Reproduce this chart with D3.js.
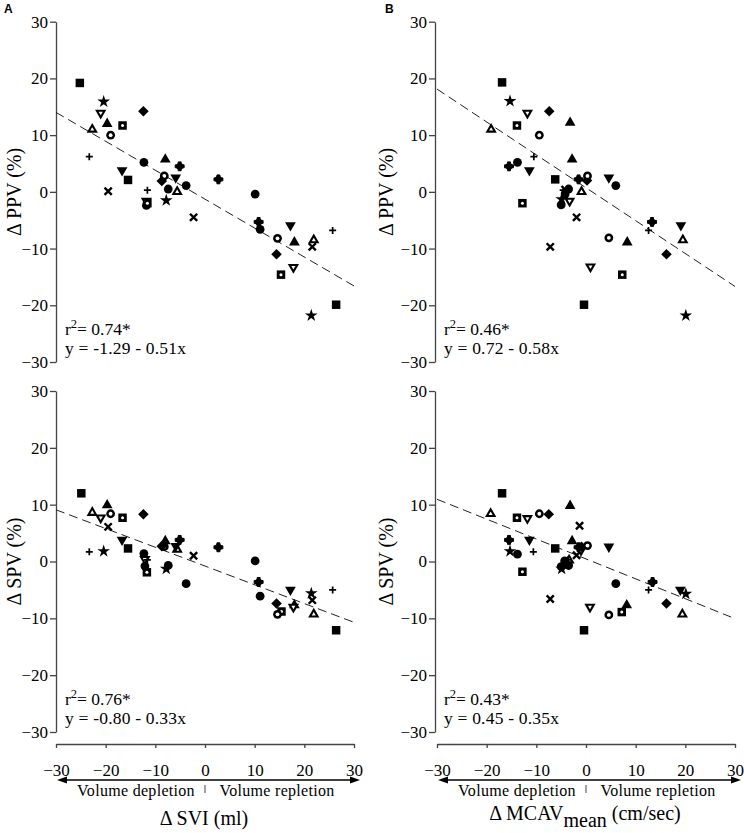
<!DOCTYPE html>
<html><head><meta charset="utf-8">
<script src="https://cdn.jsdelivr.net/npm/d3@7/dist/d3.min.js"></script>
<style>body{margin:0;background:#fff}svg{display:block}</style>
</head><body>
<svg id="c" width="744" height="833" font-family="Liberation Serif, Times New Roman, serif"></svg>
<script>
// ---- data ----
const yTicks = [30, 20, 10, 0, -10, -20, -30];
const xTicks = [-30, -20, -10, 0, 10, 20, 30];
const fitA = {a: -1.29, b: -0.51, r2: "0.74*", eq: "y = -1.29 - 0.51x"};
const fitB = {a: 0.72, b: -0.58, r2: "0.46*", eq: "y = 0.72 - 0.58x"};
const fitC = {a: -0.80, b: -0.33, r2: "0.76*", eq: "y = -0.80 - 0.33x"};
const fitD = {a: 0.45, b: -0.35, r2: "0.43*", eq: "y = 0.45 - 0.35x"};
// [subject symbol, x, y]
const pointsA = [
 ["sqF",-25.2,19.2],["sqF",-15.5,2.1],["sqF",26.4,-19.9],
 ["star",-20.4,15.9],["star",-7.8,-1.5],["star",21.4,-21.8],
 ["triDO",-21.0,13.9],["triDO",-11.8,-1.6],["triDO",17.8,-13.3],
 ["triF",-19.7,12.0],["triF",-8.0,5.7],["triF",18.0,-8.9],
 ["triO",-22.7,11.0],["triO",-5.6,0.0],["triO",21.9,-8.5],
 ["circF2",-3.8,1.1],["circF2",-11.8,-2.4],["circF2",11.1,-6.6],
 ["sqO",-16.6,11.7],["sqO",-11.6,-2.0],["sqO",15.3,-14.6],
 ["circO",-19.0,10.0],["circO",-8.2,2.8],["circO",14.6,-8.2],
 ["diaF",-12.4,14.2],["diaF",-8.7,1.9],["diaF",14.4,-11.0],
 ["plus",-23.3,6.2],["plus",-11.6,0.3],["plus",25.7,-6.8],
 ["triDF",-16.7,3.8],["triDF",-5.9,2.5],["triDF",17.2,-5.9],
 ["cross",-19.5,0.1],["cross",-2.3,-4.5],["cross",21.6,-9.7],
 ["circF",-12.3,5.2],["circF",-7.4,0.5],["circF",10.1,-0.4],
 ["hexF",-5.1,4.5],["hexF",2.7,2.2],["hexF",10.8,-5.3]
];
const pointsB = [
 ["sqF",-16.9,19.3],["sqF",-6.2,2.2],["sqF",-0.4,-19.9],
 ["star",-15.3,16.0],["star",-4.9,-1.3],["star",20.1,-21.8],
 ["triF",-3.2,12.2],["triF",-2.8,5.7],["triF",8.3,-8.9],
 ["triO",-19.1,11.0],["triO",-0.9,0.0],["triO",19.5,-8.5],
 ["circF2",6.0,1.1],["circF2",-5.0,-2.3],
 ["circF",-13.8,5.2],["circF",-3.5,0.5],["circF",-4.2,-0.4],
 ["triDO",-11.8,13.9],["triDO",-3.3,-1.6],["triDO",0.9,-13.2],
 ["sqO",-13.9,11.7],["sqO",-12.8,-2.0],["sqO",7.3,-14.6],
 ["diaF",-7.4,14.2],["diaF",0.2,2.0],["diaF",16.2,-11.0],
 ["circO",-9.4,10.0],["circO",0.3,2.8],["circO",4.6,-8.1],
 ["plus",-10.5,6.2],["plus",-4.6,0.3],["plus",12.6,-6.8],
 ["triDF",-11.4,3.8],["triDF",4.6,2.5],["triDF",19.1,-5.9],
 ["cross",-4.2,0.4],["cross",-1.9,-4.5],["cross",-7.2,-9.7],
 ["hexF",-15.5,4.5],["hexF",-1.5,2.2],["hexF",13.3,-5.3]
];
const pointsC = [
 ["sqF",-24.9,12.0],["sqF",-15.5,2.3],["sqF",26.4,-12.1],
 ["star",-20.4,1.8],["star",-7.8,-1.3],["star",21.4,-5.6],
 ["triF",-19.7,9.9],["triF",-8.0,3.6],["triF",18.0,-7.7],
 ["triDO",-21.0,7.7],["triDO",-12.1,0.4],["triDO",17.8,-8.0],
 ["triO",-22.7,8.6],["triO",-5.6,2.1],["triO",21.9,-9.3],
 ["circF2",-3.8,-3.9],["circF2",-12.1,-0.8],["circF2",11.1,-6.1],
 ["sqO",-16.6,7.7],["sqO",-11.7,-1.9],["sqO",15.4,-8.8],
 ["circO",-19.0,8.4],["circO",-8.2,2.6],["circO",14.6,-9.3],
 ["diaF",-12.4,8.3],["diaF",-8.7,2.7],["diaF",14.4,-7.4],
 ["plus",-23.3,1.7],["plus",-11.6,0.3],["plus",25.7,-5.0],
 ["triDF",-16.7,3.8],["triDF",-5.9,2.7],["triDF",17.2,-5.0],
 ["cross",-19.5,6.1],["cross",-2.3,1.0],["cross",21.6,-6.8],
 ["circF",-12.3,1.4],["circF",-7.4,-0.7],["circF",10.1,0.1],
 ["hexF",-5.1,3.8],["hexF",2.7,2.5],["hexF",10.8,-3.6]
];
const pointsD = [
 ["sqF",-16.9,12.0],["sqF",-6.2,2.3],["sqF",-0.4,-12.1],
 ["star",-15.3,1.8],["star",-4.9,-1.3],["star",20.1,-5.7],
 ["triF",-3.2,9.8],["triF",-2.8,3.6],["triF",8.2,-7.7],
 ["triO",-19.2,8.4],["triO",-3.4,0.2],["triO",19.4,-9.3],
 ["circF2",6.0,-3.9],["circF2",-5.0,-0.9],
 ["circF",-13.8,1.3],["circF",-3.5,-0.7],["circF",-4.3,0.1],
 ["triDO",-11.8,7.6],["triDO",-1.0,2.0],["triDO",0.8,-8.0],
 ["sqO",-13.9,7.7],["sqO",-12.8,-1.8],["sqO",7.2,-8.9],
 ["diaF",-7.5,8.3],["diaF",-0.9,2.6],["diaF",16.2,-7.4],
 ["circO",-9.4,8.4],["circO",0.3,2.8],["circO",4.6,-9.4],
 ["plus",-10.6,1.7],["plus",-3.6,0.3],["plus",12.6,-5.0],
 ["triDF",-11.4,3.8],["triDF",4.6,2.6],["triDF",19.0,-5.0],
 ["cross",-1.3,6.3],["cross",-7.2,-6.6],["cross",-1.9,1.1],
 ["hexF",-15.5,3.8],["hexF",-1.5,2.5],["hexF",13.4,-3.6]
];

// ---- drawing ----
const svg = d3.select("#c");
const sym = (t, s) => d3.symbol().type(t).size(s)();

function drawMark(g, t, cx, cy) {
  const m = g.append("g").attr("transform", `translate(${cx},${cy})`);
  switch (t) {
    case "sqF": m.append("path").attr("d", sym(d3.symbolSquare, 72)); break;
    case "sqO":
      m.append("path").attr("d", sym(d3.symbolSquare, 72));
      m.append("circle").attr("r", 1.5).attr("fill", "#fff"); break;
    case "circF": case "circF2": m.append("circle").attr("r", 4.4); break;
    case "circO":
      m.append("circle").attr("r", 4.4);
      m.append("circle").attr("r", 1.9).attr("fill", "#fff"); break;
    case "triF": m.append("path").attr("d", sym(d3.symbolTriangle, 50)); break;
    case "triO":
      m.append("path").attr("d", sym(d3.symbolTriangle, 55));
      m.append("path").attr("d", sym(d3.symbolTriangle, 7)).attr("fill", "#fff"); break;
    case "triDF": m.append("path").attr("d", sym(d3.symbolTriangle, 50)).attr("transform", "rotate(180)"); break;
    case "triDO":
      m.append("path").attr("d", sym(d3.symbolTriangle, 55)).attr("transform", "rotate(180)");
      m.append("path").attr("d", sym(d3.symbolTriangle, 7)).attr("fill", "#fff").attr("transform", "rotate(180)"); break;
    case "diaF": m.append("path").attr("d", sym(d3.symbolSquare, 56)).attr("transform", "rotate(45)"); break;
    case "star": m.append("path").attr("d", sym(d3.symbolStar, 50)); break;
    case "plus":
      m.append("path").attr("d", "M-3.5,0H3.5M0,-3.5V3.5").attr("stroke", "#000").attr("stroke-width", 1.7); break;
    case "cross":
      m.append("path").attr("d", "M-3.6,-3.6L3.6,3.6M-3.6,3.6L3.6,-3.6").attr("stroke", "#000").attr("stroke-width", 2.4); break;
    case "hexF":
      m.append("circle").attr("r", 3.5);
      m.append("path").attr("d", sym(d3.symbolCross, 44)).attr("stroke", "#000").attr("stroke-width", 1).attr("stroke-linejoin", "round");
      break;
  }
}

function panel(opt) {
  const x = d3.scaleLinear().domain([-30, 30]).range([opt.x0, opt.x0 + 298]);
  const y = d3.scaleLinear().domain([-30, 30]).range([opt.yb, opt.yt]);
  const g = svg.append("g");
  // y axis
  const ya = g.append("g").attr("transform", `translate(${opt.ax},0)`)
    .call(d3.axisLeft(y).tickValues(yTicks).tickSize(6).tickPadding(2).tickSizeOuter(0));
  ya.attr("font-family", null);
  ya.select(".domain").attr("stroke", "#444").attr("stroke-width", 1.3);
  ya.selectAll(".tick line").attr("stroke", "#444").attr("stroke-width", 1.3);
  ya.selectAll("text").attr("font-size", 17).attr("fill", "#000");
  // y title
  g.append("text").attr("transform", `translate(${opt.tx},${(opt.yt + opt.yb) / 2}) rotate(-90)`)
    .attr("text-anchor", "middle").attr("dominant-baseline", "central").attr("font-size", 20).text(opt.ytitle);
  // fit line
  const f = opt.fit;
  g.append("line").attr("x1", x(-30)).attr("y1", y(f.a + f.b * -30)).attr("x2", x(30)).attr("y2", y(f.a + f.b * 30))
    .attr("stroke", "#222").attr("stroke-width", 1).attr("stroke-dasharray", "9,5");
  // points
  const pg = g.append("g").attr("fill", "#000");
  opt.pts.forEach(p => drawMark(pg, p[0], x(p[1]), y(p[2])));
  // stats text
  const t1 = g.append("text").attr("x", opt.ax + 9).attr("y", opt.yb - 27).attr("font-size", 17.5);
  t1.append("tspan").text("r");
  t1.append("tspan").attr("font-size", 12.5).attr("dy", -7).text("2");
  t1.append("tspan").attr("dy", 7).text("= " + f.r2);
  g.append("text").attr("x", opt.ax + 9).attr("y", opt.yb - 8).attr("font-size", 17.5).attr("letter-spacing", 0.2).text(f.eq);
  // x axis (bottom panels)
  if (opt.xaxis) {
    const xa = g.append("g").attr("transform", `translate(0,744)`)
      .call(d3.axisBottom(x).tickValues(xTicks).tickSize(4).tickPadding(16).tickSizeOuter(0).tickFormat(d3.format("d")));
    xa.attr("font-family", null);
    xa.select(".domain").attr("stroke", "#444").attr("stroke-width", 1.3);
    xa.selectAll(".tick line").attr("stroke", "#444").attr("stroke-width", 1.3);
    xa.selectAll("text").attr("font-size", 17).attr("fill", "#000");
    // arrow
    const ay = 780, a0 = opt.x0 + 1, a1 = opt.x0 + 304;
    g.append("line").attr("x1", a0 + 6).attr("x2", a1 - 6).attr("y1", ay).attr("y2", ay).attr("stroke", "#000").attr("stroke-width", 1.6);
    g.append("path").attr("d", `M${a0},${ay}L${a0 + 10},${ay - 3.5}L${a0 + 10},${ay + 3.5}Z`);
    g.append("path").attr("d", `M${a1},${ay}L${a1 - 10},${ay - 3.5}L${a1 - 10},${ay + 3.5}Z`);
    g.append("line").attr("x1", x(0)).attr("x2", x(0)).attr("y1", 785).attr("y2", 793).attr("stroke", "#444").attr("stroke-width", 1);
    g.append("text").attr("x", x(0) - 69).attr("y", 796).attr("text-anchor", "middle").attr("font-size", 16).attr("letter-spacing", 0.3).text("Volume depletion");
    g.append("text").attr("x", x(0) + 72).attr("y", 796).attr("text-anchor", "middle").attr("font-size", 16).attr("letter-spacing", 0.3).text("Volume repletion");
    const tt = g.append("text").attr("x", x(0) - 1).attr("y", opt.tby).attr("text-anchor", "middle").attr("font-size", 20);
    opt.xtitle.forEach(s => { const ts = tt.append("tspan").text(s.t); if (s.sub) ts.attr("dy", 7); if (s.back) ts.attr("dy", -7); });
  }
}

panel({x0: 56, ax: 56, yt: 21.7, yb: 362, tx: 14, ytitle: "Δ PPV (%)", fit: fitA, pts: pointsA});
panel({x0: 437, ax: 435, yt: 21.7, yb: 362, tx: 386, ytitle: "Δ PPV (%)", fit: fitB, pts: pointsB});
panel({x0: 56, ax: 56, yt: 391, yb: 732, tx: 14, ytitle: "Δ SPV (%)", fit: fitC, pts: pointsC, xaxis: true, tby: 825,
  xtitle: [{t: "Δ SVI (ml)"}]});
panel({x0: 437, ax: 435, yt: 391, yb: 732, tx: 386, ytitle: "Δ SPV (%)", fit: fitD, pts: pointsD, xaxis: true, tby: 820,
  xtitle: [{t: "Δ MCAV"}, {t: "mean", sub: true}, {t: " (cm/sec)", back: true}]});

svg.append("text").attr("x", 4).attr("y", 13).style("font-family", "Liberation Sans, Arial, sans-serif").attr("font-weight", "bold").attr("font-size", 12).text("A");
svg.append("text").attr("x", 385).attr("y", 13).style("font-family", "Liberation Sans, Arial, sans-serif").attr("font-weight", "bold").attr("font-size", 12).text("B");
</script>
</body></html>
